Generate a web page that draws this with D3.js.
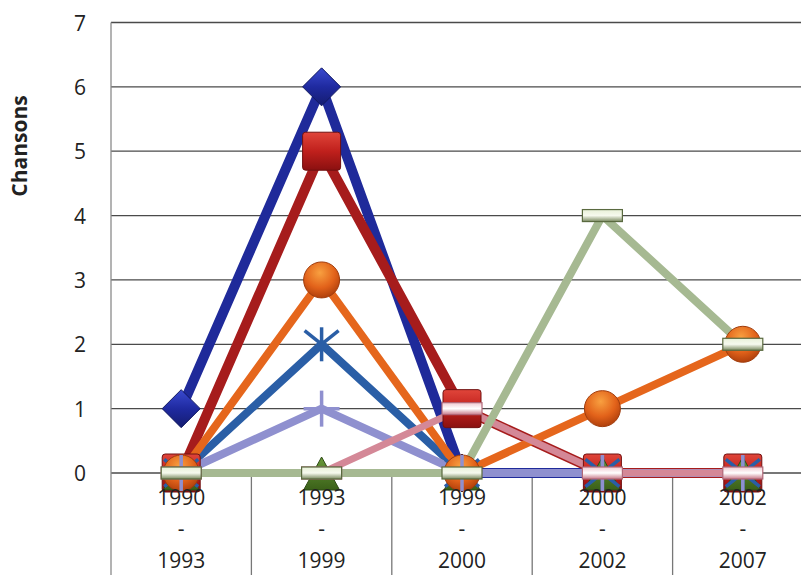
<!DOCTYPE html>
<html><head><meta charset="utf-8">
<script src="https://cdn.jsdelivr.net/npm/d3@7"></script>
<style>html,body{margin:0;padding:0;background:#fff;}svg{display:block;}</style>
</head><body>
<svg id="chart" width="801" height="575"></svg>
<script>
// ---- data ----
const catStart = ["1990", "1993", "1999", "2000", "2002"];
const catEnd   = ["1993", "1999", "2000", "2002", "2007"];
const categories = catStart.map((s, i) => s + " - " + catEnd[i]);
const yTicks = [0, 1, 2, 3, 4, 5, 6, 7];
const yTitle = "Chansons";
const seriesNames = ["Série 1", "Série 2", "Série 3", "Série 4", "Série 5", "Série 6", "Série 7", "Série 8"];
const s1 = [1, 6, 0, 0, 0];  // navy diamond
const s2 = [0, 5, 1, 0, 0];  // dark red square
const s3 = [0, 0, 0, 0, 0];  // green triangle
const s4 = [0, 2, 0, 0, 0];  // steel blue asterisk
const s5 = [0, 3, 0, 1, 2];  // orange circle
const s6 = [0, 1, 0, 0, 0];  // lavender plus
const s7 = [0, 0, 1, 0, 0];  // pink dash
const s8 = [0, 0, 0, 4, 2];  // sage dash

const styles = [
  {color: "#1f2a9a", width: 10, marker: "diamond", fill: "url(#gDiamond)"},
  {color: "#a61c1c", width: 10, marker: "square", fill: "url(#gSquare)"},
  {color: "#4d7a28", width: 6, marker: "triangle", fill: "url(#gTri)"},
  {color: "#2a5ea6", width: 8, marker: "star", fill: "none"},
  {color: "#e5661c", width: 8, marker: "circle", fill: "url(#gCircle)"},
  {color: "#8f90cf", width: 8, marker: "plus", fill: "none"},
  {color: "#d48897", width: 7, marker: "dash", fill: "url(#gDashPink)"},
  {color: "#a6b992", width: 8, marker: "dash", fill: "url(#gDashGreen)"}
];
const allSeries = [s1, s2, s3, s4, s5, s6, s7, s8];

// ---- layout ----
const svg = d3.select("#chart");
const plotLeft = 111, plotRight = 813, plotTop = 22.5, zeroY = 473;
const x = d3.scaleBand().domain(categories).range([plotLeft, plotRight]);
const y = d3.scaleLinear().domain([0, 7]).range([zeroY, plotTop]);
const cx = c => x(c) + x.bandwidth() / 2;

// gradients
const defs = svg.append("defs");
function lin(id, stops) {
  const g = defs.append("linearGradient").attr("id", id).attr("x1", 0).attr("y1", 0).attr("x2", 0).attr("y2", 1);
  stops.forEach(([o, c]) => g.append("stop").attr("offset", o).attr("stop-color", c));
}
lin("gSquare", [[0, "#e0453a"], [0.5, "#c0201c"], [1, "#8a1010"]]);
lin("gDiamond", [[0, "#3a4ad0"], [0.5, "#1f2aa0"], [1, "#141c70"]]);
lin("gTri", [[0, "#6a9a3a"], [1, "#3a6018"]]);
lin("gDashPink", [[0, "#f0c8d0"], [0.5, "#ffffff"], [1, "#c87888"]]);
lin("gDashGreen", [[0, "#e8f0d8"], [0.5, "#f6f9ee"], [1, "#7a8a60"]]);
const rg = defs.append("radialGradient").attr("id", "gCircle").attr("cx", "45%").attr("cy", "30%").attr("r", "70%");
rg.append("stop").attr("offset", 0).attr("stop-color", "#f8a040");
rg.append("stop").attr("offset", 0.6).attr("stop-color", "#e2621a");
rg.append("stop").attr("offset", 1).attr("stop-color", "#b0400c");

// horizontal gridlines
svg.append("g").selectAll("line").data(yTicks).join("line")
  .attr("x1", plotLeft).attr("x2", 801)
  .attr("y1", d => y(d)).attr("y2", d => y(d))
  .attr("stroke", "#4a4a4a").attr("stroke-width", 1.3);

// left border and category separators below zero
svg.append("line").attr("x1", plotLeft).attr("x2", plotLeft).attr("y1", plotTop).attr("y2", 575)
  .attr("stroke", "#8a8a8a").attr("stroke-width", 1.3);
svg.append("g").selectAll("line").data(categories.slice(1)).join("line")
  .attr("x1", d => x(d)).attr("x2", d => x(d))
  .attr("y1", zeroY).attr("y2", 575)
  .attr("stroke", "#777").attr("stroke-width", 1.3);

// y tick labels (axis without domain/ticks)
const yAxis = svg.append("g").attr("transform", `translate(${plotLeft},0)`)
  .call(d3.axisLeft(y).tickValues(yTicks).tickSize(0).tickPadding(0).tickFormat(d3.format("d")));
yAxis.select(".domain").remove();
yAxis.selectAll("text").attr("x", 80 - plotLeft).attr("text-anchor", "middle")
  .attr("font-family", "'Open Sans', sans-serif").attr("font-size", 21).attr("fill", "#222").attr("dy", "0.36em");

// y title
svg.append("text").attr("transform", "translate(27,146) rotate(-90)")
  .attr("text-anchor", "middle").attr("font-family", "'Open Sans', sans-serif")
  .attr("font-weight", "bold").attr("font-size", 21).attr("fill", "#222").text(yTitle);

// lines
const line = d3.line().x((d, i) => cx(categories[i])).y(d => y(d));
const gLines = svg.append("g");
allSeries.forEach((s, k) => {
  gLines.append("path").datum(s).attr("d", line)
    .attr("fill", "none").attr("stroke", styles[k].color).attr("stroke-width", styles[k].width)
    .attr("stroke-linejoin", "miter").attr("stroke-linecap", "butt");
});

// markers
const gMarks = svg.append("g");
function drawMarker(g, st, px, py) {
  const m = st.marker;
  if (m === "diamond") {
    g.append("path").attr("d", `M${px},${py-19}L${px+19},${py}L${px},${py+19}L${px-19},${py}Z`)
      .attr("fill", st.fill).attr("stroke", "#101860").attr("stroke-width", 1);
  } else if (m === "square") {
    g.append("rect").attr("x", px - 19).attr("y", py - 19).attr("width", 38).attr("height", 38).attr("rx", 3)
      .attr("fill", st.fill).attr("stroke", "#701010").attr("stroke-width", 1);
  } else if (m === "triangle") {
    g.append("path").attr("d", `M${px},${py-16}L${px+18},${py+17}L${px-18},${py+17}Z`)
      .attr("fill", st.fill).attr("stroke", "#2e4a14").attr("stroke-width", 1);
  } else if (m === "circle") {
    g.append("circle").attr("cx", px).attr("cy", py).attr("r", 18)
      .attr("fill", st.fill).attr("stroke", "#a03c0c").attr("stroke-width", 1);
  } else if (m === "star") {
    const r = 17;
    [[-r, -r * 0.8, r, r * 0.8], [-r, r * 0.8, r, -r * 0.8], [0, -r, 0, r]].forEach(([a, b, c, d]) =>
      g.append("line").attr("x1", px + a).attr("y1", py + b).attr("x2", px + c).attr("y2", py + d)
        .attr("stroke", st.color).attr("stroke-width", 3.5));
  } else if (m === "plus") {
    g.append("line").attr("x1", px).attr("x2", px).attr("y1", py - 18).attr("y2", py + 18)
      .attr("stroke", st.color).attr("stroke-width", 3.5);
    g.append("line").attr("x1", px - 18).attr("x2", px + 18).attr("y1", py).attr("y2", py)
      .attr("stroke", st.color).attr("stroke-width", 3.5);
  } else if (m === "dash") {
    g.append("rect").attr("x", px - 20).attr("y", py - 6).attr("width", 40).attr("height", 12)
      .attr("fill", st.fill).attr("stroke", st.color === "#a6b992" ? "#5a6a40" : "#b06878").attr("stroke-width", 1.2);
  }
}
allSeries.forEach((s, k) => {
  s.forEach((v, i) => drawMarker(gMarks, styles[k], cx(categories[i]), y(v)));
});

// x labels (3 lines)
const gx = svg.append("g");
categories.forEach((c, i) => {
  const t = gx.append("text").attr("text-anchor", "middle")
    .attr("font-family", "'Open Sans', sans-serif").attr("font-size", 21).attr("fill", "#222");
  [[catStart[i], 505], ["-", 536], [catEnd[i], 568]].forEach(([txt, yy]) =>
    t.append("tspan").attr("x", cx(c)).attr("y", yy).text(txt));
});
</script>
</body></html>
